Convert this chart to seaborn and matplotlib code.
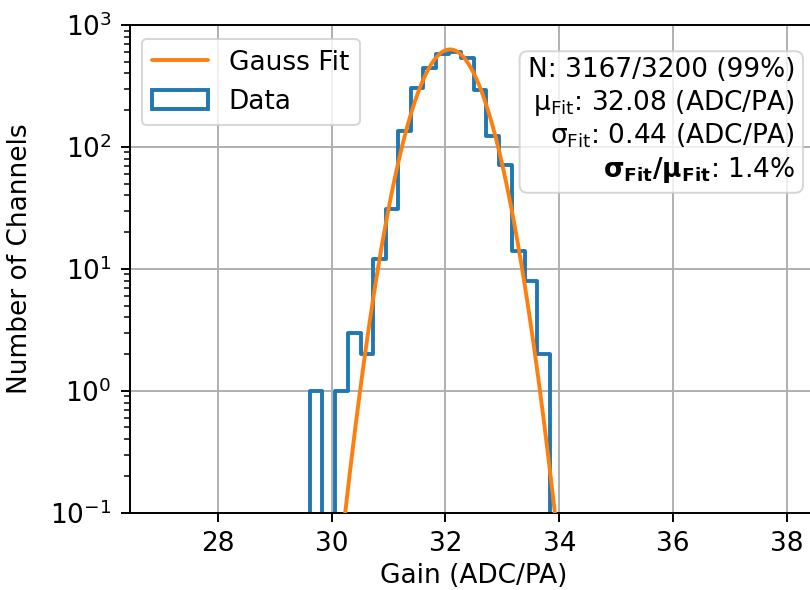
import numpy as np
import matplotlib
matplotlib.use("Agg")
import matplotlib.pyplot as plt
from matplotlib.lines import Line2D
from matplotlib.patches import Patch
import seaborn as sns

# ---- data ----
# (empty outer bins make the step outline drop to the baseline at both ends)
bin_edges = [29.40, 29.62, 29.84, 30.06, 30.28, 30.51, 30.73, 30.95, 31.17, 31.39, 31.61,
             31.84, 32.06, 32.28, 32.50, 32.72, 32.94, 33.16, 33.39, 33.61, 33.83, 34.05]
bin_counts = [0, 1, 0, 1, 3, 2, 12, 31, 134, 305, 440, 573, 595, 538, 292, 122, 71, 14, 8, 2, 0]

fit_mu = 32.08
fit_sigma = 0.44
fit_amplitude = 630.0

stats_lines = [
    "N: 3167/3200 (99%)",
    "μ$_{\\mathrm{Fit}}$: 32.08 (ADC/PA)",
    "σ$_{\\mathrm{Fit}}$: 0.44 (ADC/PA)",
    "$\\mathbf{σ_{Fit}/μ_{Fit}}$: 1.4%",
]
legend_labels = ["Gauss Fit", "Data"]
x_label = "Gain (ADC/PA)"
y_label = "Number of Channels"
x_ticks = [28, 30, 32, 34, 36, 38]

# ---- styling ----
sns.set_theme(style="ticks")
plt.rcParams["font.family"] = ["DejaVu Sans"]
plt.rcParams["mathtext.fontset"] = "dejavusans"
for k in ["text.color", "axes.labelcolor", "xtick.color", "ytick.color",
          "xtick.labelcolor", "ytick.labelcolor", "axes.edgecolor"]:
    plt.rcParams[k] = "black"

blue = "#1f77b4"
orange = "#ff7f0e"
fs = 19

fig = plt.figure(figsize=(8.1, 5.9), dpi=100)
ax = fig.add_axes([0.1605, 0.131, 0.8457, 0.8267])

centers = [(a + b) / 2 for a, b in zip(bin_edges[:-1], bin_edges[1:])]
sns.histplot(x=centers, weights=bin_counts, bins=bin_edges, element="step",
             fill=False, color=blue, linewidth=2.8, ax=ax)

xfit = np.linspace(26.0, 39.0, 800)
yfit = fit_amplitude * np.exp(-0.5 * ((xfit - fit_mu) / fit_sigma) ** 2)
sns.lineplot(x=xfit, y=yfit, color=orange, linewidth=2.8, ax=ax, zorder=3)

ax.set_yscale("log")
ax.set_ylim(0.1, 1000)
ax.set_xlim(26.46, 38.49)
ax.set_xticks(x_ticks)
ax.set_xlabel(x_label, fontsize=fs)
ax.set_ylabel(y_label, fontsize=fs)
ax.xaxis.set_label_coords(0.502, -0.104)
ax.yaxis.set_label_coords(-0.1416, 0.52)
ax.grid(True, which="major", color="#b0b0b0", linewidth=1.4)
ax.tick_params(axis="both", which="major", labelsize=fs, length=6.7, width=1.4,
               direction="out", color="black", pad=6.5)
ax.tick_params(axis="y", which="minor", length=4.0, width=1.1, color="black")
for s in ax.spines.values():
    s.set_linewidth(1.4)
    s.set_color("black")

handles = [Line2D([0], [0], color=orange, linewidth=2.8),
           Patch(facecolor="none", edgecolor=blue, linewidth=2.8)]
leg = ax.legend(handles, legend_labels, loc="upper left",
                bbox_to_anchor=(0.0171, 0.9713), borderaxespad=0,
                fontsize=fs, handlelength=2.1, frameon=True)
leg.get_frame().set_linewidth(1.4)

ax.text(0.9708, 0.934, "\n".join(stats_lines), transform=ax.transAxes,
        ha="right", va="top", multialignment="right", fontsize=fs,
        bbox=dict(boxstyle="round,pad=0.3", facecolor="white",
                  edgecolor="0.8", alpha=0.8, linewidth=1.4))

fig.savefig("out.png", dpi=100)
